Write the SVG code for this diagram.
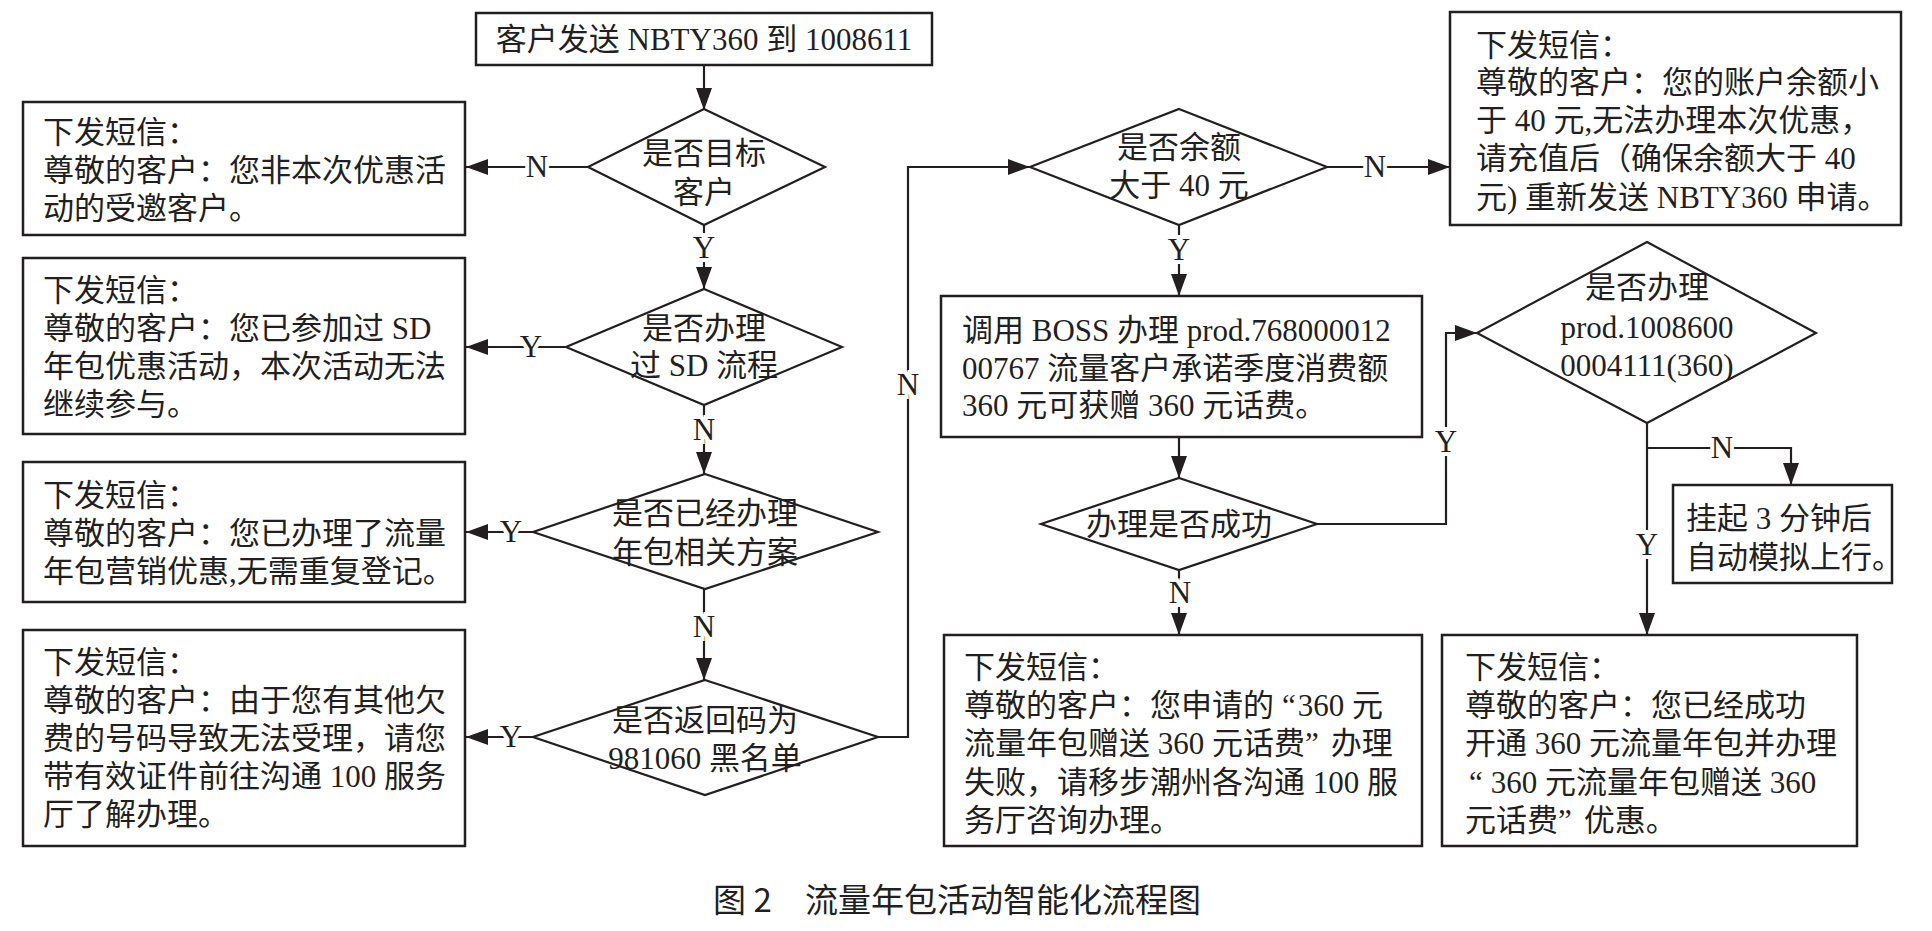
<svg xmlns="http://www.w3.org/2000/svg" width="1932" height="931" viewBox="0 0 1932 931">
<defs>
<style>
.box{fill:#fff;stroke:#231f20;stroke-width:2.5}
.dia{fill:#fff;stroke:#231f20;stroke-width:2.2}
.ln{fill:none;stroke:#231f20;stroke-width:2.2}
.t{font-family:"Liberation Serif","Noto Sans CJK SC",serif;font-size:31px;fill:#231f20}
.c{text-anchor:middle}
.lbl{font-family:"Liberation Serif",serif;font-size:31px;fill:#231f20;text-anchor:middle;paint-order:stroke;stroke:#fff;stroke-width:8px}
.cap{font-family:"Noto Sans CJK SC",sans-serif;font-size:33px;fill:#231f20}
</style>
<marker id="ah" viewBox="0 0 22 16" markerWidth="22" markerHeight="16" refX="22" refY="8" orient="auto" markerUnits="userSpaceOnUse">
<path d="M0,0 L22,8 L0,16 z" fill="#231f20"/>
</marker>
</defs>
<rect width="1932" height="931" fill="#fff"/>

<g id="connectors">
<path class="ln" d="M704,65 V110" marker-end="url(#ah)"/>
<path class="ln" d="M588,167 H466" marker-end="url(#ah)"/>
<path class="ln" d="M704,225 V289" marker-end="url(#ah)"/>
<path class="ln" d="M566,347 H466" marker-end="url(#ah)"/>
<path class="ln" d="M704,405 V474" marker-end="url(#ah)"/>
<path class="ln" d="M533,532 H466" marker-end="url(#ah)"/>
<path class="ln" d="M704,589 V680" marker-end="url(#ah)"/>
<path class="ln" d="M533,737 H466" marker-end="url(#ah)"/>
<path class="ln" d="M878,737 H908 V167 H1030" marker-end="url(#ah)"/>
<path class="ln" d="M1327,167 H1450" marker-end="url(#ah)"/>
<path class="ln" d="M1179,225 V296" marker-end="url(#ah)"/>
<path class="ln" d="M1179,437 V478" marker-end="url(#ah)"/>
<path class="ln" d="M1179,570 V635" marker-end="url(#ah)"/>
<path class="ln" d="M1317,524 H1446 V333 H1477" marker-end="url(#ah)"/>
<path class="ln" d="M1647,423 V635" marker-end="url(#ah)"/>
<path class="ln" d="M1647,448 H1791 V485" marker-end="url(#ah)"/>
<text class="lbl" x="537" y="177">N</text>
<text class="lbl" x="704" y="258">Y</text>
<text class="lbl" x="531" y="357">Y</text>
<text class="lbl" x="704" y="440">N</text>
<text class="lbl" x="511" y="542">Y</text>
<text class="lbl" x="704" y="637">N</text>
<text class="lbl" x="511" y="747">Y</text>
<text class="lbl" x="908" y="395">N</text>
<text class="lbl" x="1375" y="177">N</text>
<text class="lbl" x="1179" y="260">Y</text>
<text class="lbl" x="1180" y="603">N</text>
<text class="lbl" x="1446" y="452">Y</text>
<text class="lbl" x="1722" y="458">N</text>
<text class="lbl" x="1647" y="555">Y</text>
</g>

<g id="start">
<rect class="box" x="476" y="13" width="456" height="52"/>
<text class="t c" x="704" y="50">客户发送 NBTY360 到 1008611</text>
</g>

<g id="d1">
<polygon class="dia" points="704,109 825,167 704,225 588,167"/>
<text class="t c" x="704" y="164">是否目标</text>
<text class="t c" x="704" y="203">客户</text>
</g>

<g id="l1">
<rect class="box" x="23" y="102" width="442" height="133"/>
<text class="t" x="43" y="143">下发短信：</text>
<text class="t" x="43" y="181">尊敬的客户：您非本次优惠活</text>
<text class="t" x="43" y="219">动的受邀客户。</text>
</g>

<g id="d2">
<polygon class="dia" points="704,289 842,347 704,405 566,347"/>
<text class="t c" x="704" y="339">是否办理</text>
<text class="t c" x="704" y="376">过 SD 流程</text>
</g>

<g id="l2">
<rect class="box" x="23" y="258" width="442" height="176"/>
<text class="t" x="43" y="301">下发短信：</text>
<text class="t" x="43" y="339">尊敬的客户：您已参加过 SD</text>
<text class="t" x="43" y="377">年包优惠活动，本次活动无法</text>
<text class="t" x="43" y="415">继续参与。</text>
</g>

<g id="d3">
<polygon class="dia" points="705,474 878,532 705,589 533,532"/>
<text class="t c" x="705" y="524">是否已经办理</text>
<text class="t c" x="705" y="563">年包相关方案</text>
</g>

<g id="l3">
<rect class="box" x="23" y="462" width="442" height="140"/>
<text class="t" x="43" y="506">下发短信：</text>
<text class="t" x="43" y="544">尊敬的客户：您已办理了流量</text>
<text class="t" x="43" y="582">年包营销优惠,无需重复登记。</text>
</g>

<g id="d4">
<polygon class="dia" points="705,680 878,737 705,795 533,737"/>
<text class="t c" x="705" y="731">是否返回码为</text>
<text class="t c" x="705" y="769">981060 黑名单</text>
</g>

<g id="l4">
<rect class="box" x="23" y="630" width="442" height="216"/>
<text class="t" x="43" y="673">下发短信：</text>
<text class="t" x="43" y="711">尊敬的客户：由于您有其他欠</text>
<text class="t" x="43" y="749">费的号码导致无法受理，请您</text>
<text class="t" x="43" y="787">带有效证件前往沟通 100 服务</text>
<text class="t" x="43" y="825">厅了解办理。</text>
</g>

<g id="d5">
<polygon class="dia" points="1179,109 1327,167 1179,225 1030,167"/>
<text class="t c" x="1179" y="158">是否余额</text>
<text class="t c" x="1179" y="196">大于 40 元</text>
</g>

<g id="r1">
<rect class="box" x="1450" y="12" width="451" height="213"/>
<text class="t" x="1476" y="56">下发短信：</text>
<text class="t" x="1476" y="93">尊敬的客户：您的账户余额小</text>
<text class="t" x="1476" y="131">于 40 元,无法办理本次优惠，</text>
<text class="t" x="1476" y="169">请充值后（确保余额大于 40</text>
<text class="t" x="1476" y="208">元) 重新发送 NBTY360 申请。</text>
</g>

<g id="boss">
<rect class="box" x="941" y="296" width="481" height="141"/>
<text class="t" x="962" y="341">调用 BOSS 办理 prod.768000012</text>
<text class="t" x="962" y="379">00767 流量客户承诺季度消费额</text>
<text class="t" x="962" y="416">360 元可获赠 360 元话费。</text>
</g>

<g id="d7">
<polygon class="dia" points="1179,478 1317,524 1179,570 1041,524"/>
<text class="t c" x="1179" y="535">办理是否成功</text>
</g>

<g id="d6">
<polygon class="dia" points="1647,242 1816,333 1647,423 1477,333"/>
<text class="t c" x="1647" y="298">是否办理</text>
<text class="t c" x="1647" y="338">prod.1008600</text>
<text class="t c" x="1647" y="376">0004111(360)</text>
</g>

<g id="hang">
<rect class="box" x="1673" y="485" width="219" height="98"/>
<text class="t" x="1686" y="529">挂起 3 分钟后</text>
<text class="t" x="1686" y="568">自动模拟上行。</text>
</g>

<g id="b1">
<rect class="box" x="944" y="635" width="478" height="211"/>
<text class="t" x="964" y="678">下发短信：</text>
<text class="t" x="964" y="716">尊敬的客户：您申请的<tspan dx="8">“</tspan><tspan dx="2">360 元</tspan></text>
<text class="t" x="964" y="754">流量年包赠送 360 元话费”<tspan dx="12">办理</tspan></text>
<text class="t" x="964" y="793">失败，请移步潮州各沟通 100 服</text>
<text class="t" x="964" y="831">务厅咨询办理。</text>
</g>

<g id="b2">
<rect class="box" x="1442" y="635" width="415" height="211"/>
<text class="t" x="1465" y="678">下发短信：</text>
<text class="t" x="1465" y="716">尊敬的客户：您已经成功</text>
<text class="t" x="1465" y="754">开通 360 元流量年包并办理</text>
<text class="t" x="1465" y="793"><tspan dx="4">“</tspan><tspan dx="8">360 元流量年包赠送 360</tspan></text>
<text class="t" x="1465" y="831">元话费”<tspan dx="12">优惠。</tspan></text>
</g>

<g id="caption">
<text class="cap" x="713" y="912">图 2</text>
<text class="cap" x="805" y="912">流量年包活动智能化流程图</text>
</g>
</svg>
